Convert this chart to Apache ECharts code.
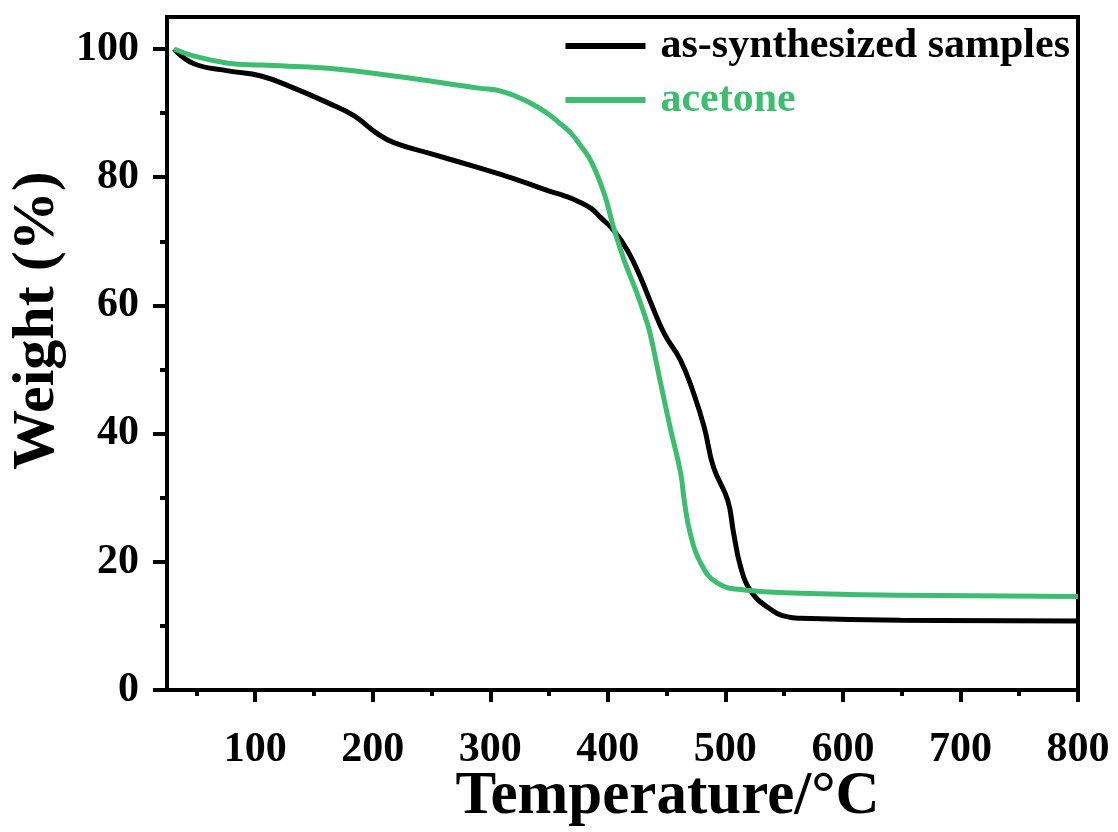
<!DOCTYPE html>
<html>
<head>
<meta charset="utf-8">
<title>TGA</title>
<script src="https://cdn.jsdelivr.net/npm/echarts@6/dist/echarts.min.js"></script>
<style>
  html, body { margin: 0; padding: 0; background: #fff; }
  #main { width: 1118px; height: 832px; }
</style>
</head>
<body>
<div id="main"></div>
<script>
// temperature (°C) / weight (%)
var tempSynth = [31, 48, 77, 105, 133, 162, 184, 204, 218, 247, 290, 320, 349, 363, 374, 386, 394, 405, 417, 428, 436, 448, 462, 473, 482, 490, 502, 507, 513, 521, 536, 553, 564, 649, 800];
var weightSynth = [100, 97.7, 96.6, 95.8, 93.9, 91.6, 89.6, 86.8, 85.4, 83.8, 81.5, 79.8, 77.9, 77.1, 76.3, 75.1, 73.7, 71.7, 68.5, 64.3, 60.7, 55.6, 51.4, 46.3, 41, 34.7, 29.6, 24.5, 19.2, 15.6, 12.9, 11.4, 11.2, 10.9, 10.75];

var tempAcetone = [31, 48, 77, 105, 162, 218, 290, 310, 334, 349, 360, 369, 377, 386, 397, 405, 414, 425, 432, 436, 445, 453, 462, 465, 470, 479, 493, 516, 564, 649, 800];
var weightAcetone = [100, 98.9, 97.8, 97.5, 97.0, 95.8, 93.9, 93.4, 91.6, 89.9, 88.3, 86.8, 84.9, 82.4, 77.4, 72.1, 67, 61.8, 58.1, 55.6, 47.8, 41, 33.8, 29.6, 24.5, 19.8, 16.7, 15.6, 15.1, 14.8, 14.6];

var xMajor = [100, 200, 300, 400, 500, 600, 700, 800];
var xMinor = [50, 150, 250, 350, 450, 550, 650, 750];
var yMajor = [0, 20, 40, 60, 80, 100];
var yMinor = [10, 30, 50, 70, 90];

var seriesNames = ['as-synthesized samples', 'acetone'];
var green = '#3dbd6f';
var font = "'Liberation Serif', 'Times New Roman', serif";

function pairs(xs, ys) {
  return xs.map(function (x, i) { return [x, ys[i]]; });
}

var myChart = echarts.init(document.getElementById('main'));

var tickAxis = function (values, len, showLine, extra) {
  return Object.assign({
    type: 'value',
    axisLine: { show: showLine, lineStyle: { color: '#000', width: 4 } },
    axisTick: { show: true, customValues: values, length: len, lineStyle: { color: '#000', width: 4 } },
    splitLine: { show: false }
  }, extra);
};

myChart.setOption({
  animation: false,
  grid: {
    left: 167, top: 17, right: 40, bottom: 142,
    outerBoundsMode: 'none',
    containLabel: false,
    show: true, borderColor: '#000', borderWidth: 4
  },
  legend: {
    orient: 'vertical',
    right: 43,
    top: 18,
    itemWidth: 80,
    itemHeight: 6,
    itemGap: 8,
    icon: 'rect',
    textStyle: {
      fontFamily: font, fontWeight: 'bold', fontSize: 42, lineHeight: 46,
      padding: [0, 0, 0, 10]
    },
    data: [
      { name: seriesNames[0], textStyle: { color: '#000' } },
      { name: seriesNames[1], textStyle: { color: green } }
    ]
  },
  xAxis: [
    tickAxis(xMajor, 12, true, {
      min: 25, max: 800, position: 'bottom',
      axisLabel: {
        customValues: xMajor, margin: 39,
        color: '#000', fontFamily: font, fontWeight: 'bold', fontSize: 42
      },
      name: 'Temperature/°C',
      nameLocation: 'middle',
      nameMoveOverlap: false,
      nameGap: 77,
      nameTextStyle: {
        color: '#000', fontFamily: font, fontWeight: 'bold', fontSize: 61,
        padding: [0, 0, 0, 90]
      }
    }),
    tickAxis(xMinor, 6, false, {
      min: 25, max: 800, position: 'bottom',
      axisLabel: { show: false }
    })
  ],
  yAxis: [
    tickAxis(yMajor, 14, true, {
      min: 0, max: 105, position: 'left',
      axisLabel: {
        customValues: yMajor, margin: 28,
        color: '#000', fontFamily: font, fontWeight: 'bold', fontSize: 42
      },
      name: 'Weight (%)',
      nameLocation: 'middle',
      nameMoveOverlap: false,
      nameGap: 100,
      nameTextStyle: {
        color: '#000', fontFamily: font, fontWeight: 'bold', fontSize: 60,
        padding: [0, 0, 0, 66]
      }
    }),
    tickAxis(yMinor, 7, false, {
      min: 0, max: 105, position: 'left',
      axisLabel: { show: false }
    })
  ],
  series: [
    {
      name: seriesNames[0],
      type: 'line',
      xAxisIndex: 0, yAxisIndex: 0,
      smooth: 0.45,
      symbol: 'none',
      itemStyle: { color: '#000' },
      lineStyle: { color: '#000', width: 5 },
      data: pairs(tempSynth, weightSynth)
    },
    {
      name: seriesNames[1],
      type: 'line',
      xAxisIndex: 0, yAxisIndex: 0,
      smooth: 0.45,
      symbol: 'none',
      itemStyle: { color: green },
      lineStyle: { color: green, width: 5 },
      data: pairs(tempAcetone, weightAcetone)
    }
  ]
});
</script>
</body>
</html>
